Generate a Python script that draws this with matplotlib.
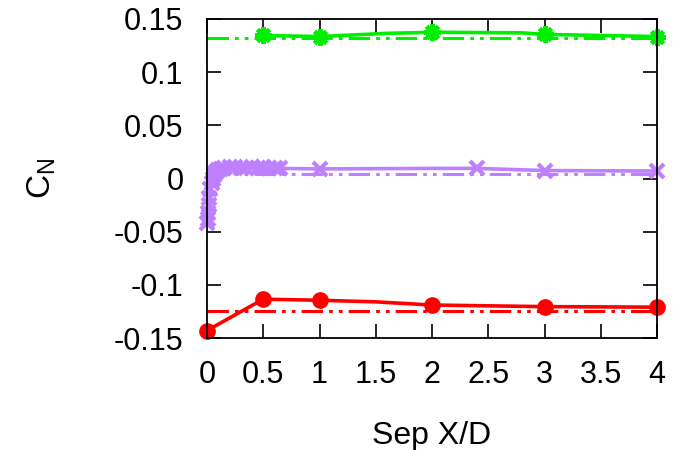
import matplotlib
matplotlib.use("Agg")
import matplotlib.pyplot as plt
import numpy as np

plt.rcParams['font.family'] = ['Liberation Sans', 'DejaVu Sans']
plt.rcParams['mathtext.fontset'] = 'custom'
plt.rcParams['mathtext.rm'] = 'Liberation Sans'
plt.rcParams['mathtext.it'] = 'Liberation Sans'

# Data
green_x = [0.5, 1.0, 1.6, 2.0, 2.8, 3.0, 4.0]
green_y = [0.1345, 0.1335, 0.1365, 0.1375, 0.1370, 0.1355, 0.1335]
green_mark = [0, 1, 3, 5, 6]
green_ref = 0.132

red_x = [0.0, 0.5, 1.0, 1.5, 2.0, 3.0, 4.0]
red_y = [-0.143, -0.1135, -0.1145, -0.1160, -0.119, -0.1205, -0.121]
red_mark = [0, 1, 2, 4, 5, 6]
red_ref = -0.1245

purple_x = [0.0, 0.005, 0.01, 0.015, 0.02, 0.03, 0.04, 0.05, 0.06, 0.08, 0.10, 0.12,
            0.15, 0.2, 0.25, 0.3, 0.35, 0.4, 0.45, 0.5, 0.55, 0.6, 0.65, 1.0, 2.0, 2.4, 3.0, 4.0]
purple_y = [-0.042, -0.038, -0.032, -0.025, -0.018, -0.010, -0.004, 0.000, 0.003, 0.006, 0.008, 0.009,
            0.010, 0.0105, 0.0105, 0.010, 0.010, 0.0105, 0.010, 0.0105, 0.010, 0.010, 0.0095, 0.009, 0.0095, 0.0095, 0.0075, 0.007]
purple_mark = [i for i in range(len(purple_x)) if i != 24]
purple_ref = 0.0045

xticks = [0, 0.5, 1, 1.5, 2, 2.5, 3, 3.5, 4]
xticklabels = ['0', '0.5', '1', '1.5', '2', '2.5', '3', '3.5', '4']
yticks = [-0.15, -0.1, -0.05, 0, 0.05, 0.1, 0.15]
yticklabels = ['-0.15', '-0.1', '-0.05', '0', '0.05', '0.1', '0.15']

green = '#00ee00'
red = '#ff0000'
purple = '#bf80ff'

fig = plt.figure(figsize=(6.82, 4.5), dpi=100)
ax = fig.add_axes([207/682, 1 - 338/450, 450/682, 319/450])

dd = (0, (7, 2, 1.2, 2, 1.2, 2))
ax.plot([0, 4], [green_ref, green_ref], color=green, lw=2.2, linestyle=dd)
ax.plot([0, 4], [red_ref, red_ref], color=red, lw=2.2, linestyle=dd)
ax.plot([0, 4], [purple_ref, purple_ref], color=purple, lw=2.2, linestyle=dd)

ax.plot(green_x, green_y, color=green, lw=2.6, marker=(8, 2, 0), markersize=12,
        markeredgewidth=3, markevery=green_mark, clip_on=False)
ax.plot(red_x, red_y, color=red, lw=2.6, marker='o', markersize=11,
        markevery=red_mark, clip_on=False)
ax.plot(purple_x, purple_y, color=purple, lw=2.6, marker='x', markersize=10,
        markeredgewidth=3, markevery=purple_mark, clip_on=False)

ax.set_xlim(0, 4)
ax.set_ylim(-0.15, 0.15)
ax.set_xticks(xticks)
ax.set_xticklabels(xticklabels)
ax.set_yticks(yticks)
ax.set_yticklabels(yticklabels)
ax.tick_params(direction='in', length=10, width=1.2, top=True, right=True,
               labelsize=22, colors='black')
ax.tick_params(axis='y', pad=17)
ax.tick_params(axis='x', pad=16)
for s in ax.spines.values():
    s.set_linewidth(1.3)
    s.set_color('black')

ax.set_xlabel('Sep X/D', fontsize=23, labelpad=22)
ax.set_ylabel(r'$\mathrm{C_N}$', fontsize=24, labelpad=40)

fig.savefig('out.png', dpi=100)
